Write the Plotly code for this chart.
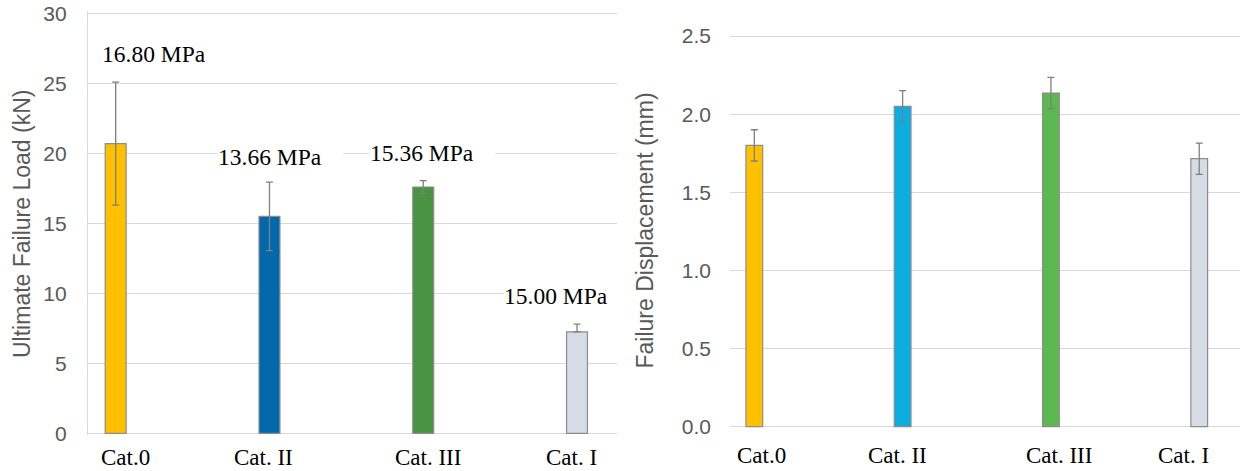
import plotly.graph_objects as go

categories = ["Cat.0", "Cat. II", "Cat. III", "Cat. I"]

load_values = [20.7, 15.5, 17.6, 7.25]
load_err_plus = [4.4, 2.45, 0.45, 0.55]
load_err_minus = [4.4, 2.45, 0.45, 0.0]
load_colors = ["#FFC000", "#0068AB", "#4A9341", "#D6DCE5"]
strength_labels = ["16.80 MPa", "13.66 MPa", "15.36 MPa", "15.00 MPa"]
strength_label_y = [27.1, 19.75, 20.0, 9.83]
strength_label_shift = [49, 11, 9, -11]
load_cat_label_shift = [10, -6, 5, -6]

disp_values = [1.80, 2.05, 2.135, 1.715]
disp_err = [0.10, 0.10, 0.10, 0.10]
disp_colors = ["#FFC000", "#0AAEE0", "#5CB850", "#D6DCE5"]
disp_cat_label_shift = [7, -5, 8, -16]

W, H = 1246, 471
GRID = "#D9D9D9"
TICKC = "#595959"
SERIF = "Liberation Serif, Times New Roman, serif"
SANS = "Liberation Sans, Arial, sans-serif"

fig = go.Figure()

fig.add_trace(go.Bar(
    x=categories, y=load_values, width=0.136,
    marker=dict(color=load_colors, line=dict(color="#8C8C8C", width=1.2)),
    error_y=dict(type="data", symmetric=False, array=load_err_plus,
                 arrayminus=load_err_minus, color="#7F7F7F",
                 thickness=1.3, width=3.5),
    xaxis="x", yaxis="y", showlegend=False,
))

fig.add_trace(go.Bar(
    x=categories, y=disp_values, width=0.113,
    marker=dict(color=disp_colors, line=dict(color="#8C8C8C", width=1.2)),
    error_y=dict(type="data", array=disp_err, color="#7F7F7F",
                 thickness=1.3, width=3.5),
    xaxis="x2", yaxis="y2", showlegend=False,
))

def px_x(p):
    return p / W

def px_y(p):
    return (H - p) / H

def y_domain(px_lo, px_hi, v_lo, v_hi, r_lo, r_hi):
    # pixel rows of values v_lo (bottom) and v_hi (top); extend to range r
    k = (px_lo - px_hi) / (v_hi - v_lo)
    bot = px_lo + (v_lo - r_lo) * k
    top = px_hi - (r_hi - v_hi) * k
    return [px_y(bot), px_y(top)]

Y1 = [-0.15, 30.15]
Y2 = [-0.012, 2.512]

fig.update_layout(
    template="none",
    width=W, height=H,
    margin=dict(l=0, r=0, t=0, b=0, pad=0),
    paper_bgcolor="white", plot_bgcolor="white",
    xaxis=dict(domain=[px_x(88), px_x(617)], anchor="y", automargin=False,
               range=[-0.18, 3.26], showgrid=False, zeroline=False,
               showline=False, showticklabels=False, ticks=""),
    yaxis=dict(domain=y_domain(433.3, 13.5, 0, 30, *Y1), anchor="x",
               automargin=False, range=Y1, tick0=0, dtick=5,
               showgrid=True, gridcolor=GRID, gridwidth=1.3,
               zeroline=True, zerolinecolor=GRID, zerolinewidth=1.3,
               showline=True, linecolor=GRID, linewidth=1.3, ticks="",
               ticklabelstandoff=16,
               tickfont=dict(family=SANS, size=21, color=TICKC)),
    xaxis2=dict(domain=[px_x(730), px_x(1240)], anchor="y2", automargin=False,
                range=[-0.164, 3.275], showgrid=False, zeroline=False,
                showline=False, showticklabels=False, ticks=""),
    yaxis2=dict(domain=y_domain(426.7, 36, 0, 2.5, *Y2), anchor="x2",
                automargin=False, range=Y2, tick0=0, dtick=0.5,
                tickformat=".1f", showgrid=True, gridcolor=GRID,
                gridwidth=1.3, zeroline=True, zerolinecolor=GRID,
                zerolinewidth=1.3, showline=False, ticks="",
                ticklabelstandoff=18,
                tickfont=dict(family=SANS, size=21, color=TICKC)),
)

annotations = []
for cat, txt, yv, sh in zip(categories, strength_labels, strength_label_y,
                            strength_label_shift):
    annotations.append(dict(
        x=cat, y=yv, xref="x", yref="y", text=txt, showarrow=False,
        xanchor="center", yanchor="middle",
        xshift=sh, width=125, align="left", bgcolor="white", borderpad=0,
        font=dict(family=SERIF, size=23.5, color="black"),
    ))

# category labels under each chart
for cat, sh in zip(categories, load_cat_label_shift):
    annotations.append(dict(
        x=cat, y=px_y(457.5), xref="x", yref="paper", text=cat,
        showarrow=False, xanchor="center", yanchor="middle", xshift=sh,
        font=dict(family=SERIF, size=23, color="black"),
    ))
for cat, sh in zip(categories, disp_cat_label_shift):
    annotations.append(dict(
        x=cat, y=px_y(455), xref="x2", yref="paper", text=cat,
        showarrow=False, xanchor="center", yanchor="middle", xshift=sh,
        font=dict(family=SERIF, size=23, color="black"),
    ))

annotations.append(dict(
    x=px_x(22), y=px_y(224), xref="paper", yref="paper",
    xanchor="center", yanchor="middle",
    text="Ultimate Failure Load (kN)", textangle=-90, showarrow=False,
    font=dict(family=SANS, size=23, color=TICKC),
))
annotations.append(dict(
    x=px_x(644), y=px_y(230.5), xref="paper", yref="paper",
    xanchor="center", yanchor="middle",
    text="Failure Displacement (mm)", textangle=-90, showarrow=False,
    font=dict(family=SANS, size=23, color=TICKC),
))
fig.update_layout(annotations=annotations)

fig.write_html(
    "out.html",
    config={"displayModeBar": False},
    post_script="document.body.style.margin='0';document.body.style.padding='0';",
)
